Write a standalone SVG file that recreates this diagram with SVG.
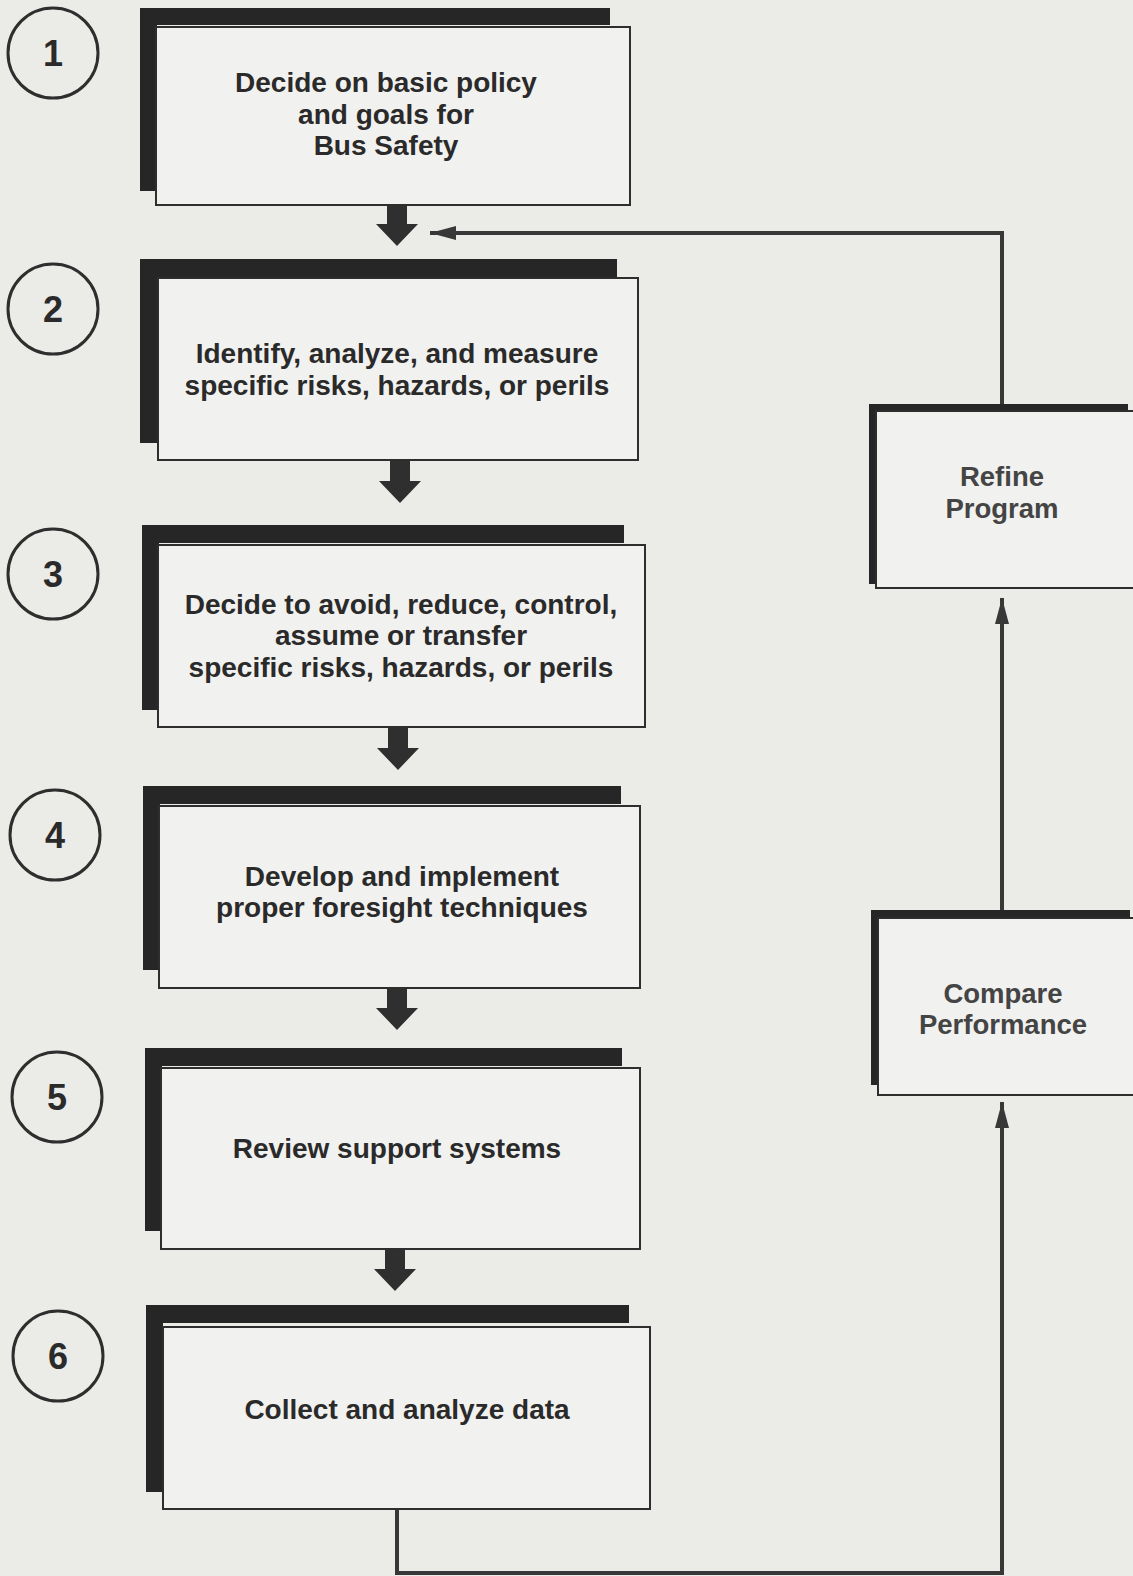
<svg xmlns="http://www.w3.org/2000/svg" width="1133" height="1576" viewBox="0 0 1133 1576">
<style>
text{font-family:"Liberation Sans",Arial,sans-serif;font-weight:bold;fill:#2a2a2a;text-anchor:middle;dominant-baseline:central}
.t{font-size:28px}
.r{font-size:27.5px;fill:#444}
.n{font-size:36px}
.sh{fill:#262626}
.bx{fill:#f1f1ef;stroke:#2e2e2e;stroke-width:2}
.c{fill:none;stroke:#2e2e2e;stroke-width:3}
.ln{fill:none;stroke:#383838;stroke-width:4}
.blk{fill:#2f2f2f}
</style>
<defs>
<marker id="ah" markerUnits="userSpaceOnUse" markerWidth="28" markerHeight="18" refX="26" refY="9" orient="auto">
<path d="M0,2 L26,9 L0,16 Z" fill="#383838"/>
</marker>
<path id="blk" d="M-10,-46 H10 V-22 H21 L0,0 L-21,-22 H-10 Z"/>
</defs>
<rect width="1133" height="1576" fill="#ebebe8"/>

<g id="connectors">
<use href="#blk" class="blk" x="397" y="246"/>
<use href="#blk" class="blk" x="400" y="503"/>
<use href="#blk" class="blk" x="398" y="770"/>
<use href="#blk" class="blk" x="397" y="1030"/>
<use href="#blk" class="blk" x="395" y="1291"/>
<path class="ln" d="M397,1509 V1573 H1002 V1102" marker-end="url(#ah)"/>
<path class="ln" d="M1002,910 V598" marker-end="url(#ah)"/>
<path class="ln" d="M1002,405 V233 H430" marker-end="url(#ah)"/>
</g>

<g id="step1">
<circle class="c" cx="53" cy="53" r="45"/>
<text class="n" x="53" y="53">1</text>
<rect class="sh" x="140" y="8" width="470" height="17"/>
<rect class="sh" x="140" y="8" width="17" height="183"/>
<rect class="bx" x="156" y="27" width="474" height="178"/>
<text class="t" x="386" y="82">Decide on basic policy</text>
<text class="t" x="386" y="114">and goals for</text>
<text class="t" x="386" y="145">Bus Safety</text>
</g>

<g id="step2">
<circle class="c" cx="53" cy="309" r="45"/>
<text class="n" x="53" y="309">2</text>
<rect class="sh" x="140" y="259" width="477" height="18"/>
<rect class="sh" x="140" y="259" width="18" height="184"/>
<rect class="bx" x="158" y="278" width="480" height="182"/>
<text class="t" x="397" y="353">Identify, analyze, and measure</text>
<text class="t" x="397" y="385">specific risks, hazards, or perils</text>
</g>

<g id="step3">
<circle class="c" cx="53" cy="574" r="45"/>
<text class="n" x="53" y="574">3</text>
<rect class="sh" x="142" y="525" width="482" height="18"/>
<rect class="sh" x="142" y="525" width="17" height="185"/>
<rect class="bx" x="158" y="545" width="487" height="182"/>
<text class="t" x="401" y="604">Decide to avoid, reduce, control,</text>
<text class="t" x="401" y="635">assume or transfer</text>
<text class="t" x="401" y="667">specific risks, hazards, or perils</text>
</g>

<g id="step4">
<circle class="c" cx="55" cy="835" r="45"/>
<text class="n" x="55" y="835">4</text>
<rect class="sh" x="143" y="786" width="478" height="18"/>
<rect class="sh" x="143" y="786" width="17" height="184"/>
<rect class="bx" x="159" y="806" width="481" height="182"/>
<text class="t" x="402" y="876">Develop and implement</text>
<text class="t" x="402" y="907">proper foresight techniques</text>
</g>

<g id="step5">
<circle class="c" cx="57" cy="1097" r="45"/>
<text class="n" x="57" y="1097">5</text>
<rect class="sh" x="145" y="1048" width="477" height="18"/>
<rect class="sh" x="145" y="1048" width="17" height="183"/>
<rect class="bx" x="161" y="1068" width="479" height="181"/>
<text class="t" x="397" y="1148">Review support systems</text>
</g>

<g id="step6">
<circle class="c" cx="58" cy="1356" r="45"/>
<text class="n" x="58" y="1356">6</text>
<rect class="sh" x="146" y="1305" width="483" height="18"/>
<rect class="sh" x="146" y="1305" width="17" height="187"/>
<rect class="bx" x="163" y="1327" width="487" height="182"/>
<text class="t" x="407" y="1409">Collect and analyze data</text>
</g>

<g id="refine">
<rect class="sh" x="869" y="404" width="259" height="8"/>
<rect class="sh" x="869" y="404" width="8" height="180"/>
<rect class="bx" x="876" y="411" width="262" height="177"/>
<text class="r" x="1002" y="476">Refine</text>
<text class="r" x="1002" y="508">Program</text>
</g>

<g id="compare">
<rect class="sh" x="871" y="910" width="259" height="8"/>
<rect class="sh" x="871" y="910" width="8" height="175"/>
<rect class="bx" x="878" y="918" width="262" height="177"/>
<text class="r" x="1003" y="993">Compare</text>
<text class="r" x="1003" y="1024">Performance</text>
</g>
</svg>
